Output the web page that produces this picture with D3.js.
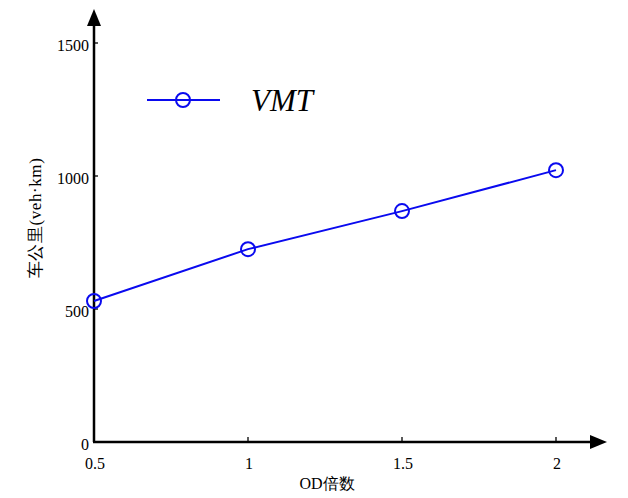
<!DOCTYPE html>
<html>
<head>
<meta charset="utf-8">
<script src="https://cdn.jsdelivr.net/npm/d3@7"></script>
<style>
  html, body { margin: 0; padding: 0; background: #fff; }
  svg { display: block; }
</style>
</head>
<body>
<svg id="chart" width="628" height="498"></svg>
<script>
// OD multiplier vs. vehicle-kilometres travelled
const odFactors = [0.5, 1, 1.5, 2];
const vmtValues = [530, 725, 868, 1022];
const xTicks = [0.5, 1, 1.5, 2];
const yTicks = [0, 500, 1000, 1500];
const seriesName = "VMT";

const svg = d3.select("#chart");
const ox = 94, oy = 442;
const x = d3.scaleLinear().domain([0.5, 2]).range([ox, 556]);
const y = d3.scaleLinear().domain([0, 1500]).range([oy, 43]);

const serif = "'Liberation Serif', 'Times New Roman', serif";
const blue = "#0a0aef";

// axes with arrowheads
const axes = svg.append("g").attr("stroke", "#000").attr("stroke-width", 2.5);
axes.append("line").attr("x1", ox).attr("y1", oy).attr("x2", ox).attr("y2", 20);
axes.append("line").attr("x1", ox - 1).attr("y1", oy).attr("x2", 592).attr("y2", oy);
svg.append("path").attr("d", `M${ox},9 L${ox - 7},26 L${ox + 7},26 Z`).attr("fill", "#000");
svg.append("path").attr("d", `M607,${oy} L590,${oy - 7} L590,${oy + 7} Z`).attr("fill", "#000");

// y ticks (inward)
const yg = svg.append("g").attr("font-family", serif).attr("font-size", 16);
yTicks.forEach(t => {
  if (t > 0) yg.append("line").attr("x1", ox).attr("x2", ox + 4)
    .attr("y1", y(t)).attr("y2", y(t)).attr("stroke", "#000").attr("stroke-width", 1.3);
  yg.append("text").attr("x", ox - 5).attr("y", y(t) + 2).attr("dy", "0.35em")
    .attr("text-anchor", "end").text(d3.format("d")(t));
});

// x ticks (inward)
const xg = svg.append("g").attr("font-family", serif).attr("font-size", 16);
xTicks.forEach(t => {
  if (t > 0.5) xg.append("line").attr("x1", x(t)).attr("x2", x(t))
    .attr("y1", oy).attr("y2", oy - 5).attr("stroke", "#000").attr("stroke-width", 1.3);
  xg.append("text").attr("x", x(t) + 1).attr("y", oy + 27).attr("text-anchor", "middle").text(t);
});

// axis titles
svg.append("text").attr("x", 327).attr("y", 489).attr("text-anchor", "middle")
  .attr("font-family", serif).attr("font-size", 16).text("OD倍数");
svg.append("text").attr("transform", "translate(41,218) rotate(-90)")
  .attr("text-anchor", "middle").attr("font-family", serif).attr("font-size", 17)
  .attr("letter-spacing", 0.6)
  .text("车公里(veh·km)");

// series line and markers
const pts = odFactors.map((d, i) => [d, vmtValues[i]]);
svg.append("path").datum(pts)
  .attr("d", d3.line().x(d => x(d[0])).y(d => y(d[1])))
  .attr("fill", "none").attr("stroke", blue).attr("stroke-width", 2);
svg.selectAll("circle.pt").data(pts).join("circle").attr("class", "pt")
  .attr("cx", d => x(d[0])).attr("cy", d => y(d[1])).attr("r", 7)
  .attr("fill", "none").attr("stroke", blue).attr("stroke-width", 2);

// legend
const lg = svg.append("g");
lg.append("line").attr("x1", 147).attr("x2", 220).attr("y1", 100).attr("y2", 100)
  .attr("stroke", blue).attr("stroke-width", 2);
lg.append("circle").attr("cx", 183).attr("cy", 100).attr("r", 7)
  .attr("fill", "none").attr("stroke", blue).attr("stroke-width", 2);
lg.append("text").attr("x", 251).attr("y", 111).attr("font-family", serif)
  .attr("font-style", "italic").attr("font-size", 31).text(seriesName);
</script>
</body>
</html>
